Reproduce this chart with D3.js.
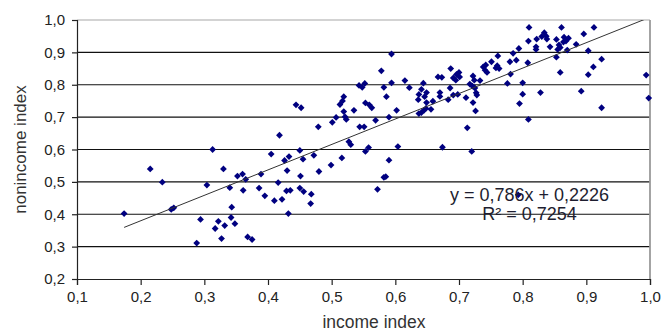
<!DOCTYPE html>
<html>
<head>
<meta charset="utf-8">
<script src="https://cdn.jsdelivr.net/npm/d3@7"></script>
<style>
  body { margin: 0; background: #fff; }
  svg { display: block; font-family: "Liberation Sans", Arial, sans-serif; }
</style>
</head>
<body>
<svg id="chart" width="662" height="331"></svg>
<script>
// scatter points: income index (x) and nonincome index (y)
const incomeIdx = [
  0.174,0.215,0.234,0.248,0.252,0.288,0.294,0.304,0.313,0.317,
  0.322,0.327,0.330,0.332,0.340,0.342,0.343,0.348,0.352,0.360,
  0.365,0.361,0.368,0.375,0.386,0.389,
  0.395,0.405,0.410,0.416,0.422,0.426,0.433,0.430,0.429,0.435,
  0.432,0.450,0.451,0.450,0.455,0.456,0.468,0.467,0.472,0.480,
  0.499,0.516,0.527,0.530,0.553,0.558,0.572,
  0.582,0.585,0.590,0.604,0.674,0.720,0.793,
  0.418,0.444,0.452,0.479,0.501,0.507,0.513,0.517,0.519,0.519,
  0.521,0.523,0.535,0.543,0.548,0.552,0.544,0.551,0.553,0.559,
  0.563,0.569,
  0.578,0.582,0.586,0.590,0.594,0.594,0.602,0.615,0.622,0.636,
  0.637,0.641,0.644,0.646,0.649,0.649,0.659,0.637,0.641,0.645,
  0.648,0.656,0.667,0.673,0.670,0.670,0.683,0.686,0.687,0.691,
  0.696,0.700,0.701,0.695,0.698,0.691,0.711,0.717,0.721,0.725,
  0.727,0.733,0.722,0.724,0.722,0.728,0.726,0.713,0.738,0.742,
  0.741,0.744,0.751,0.758,0.763,0.760,0.761,0.776,0.780,0.785,
  0.790,0.794,0.781,
  0.810,0.861,0.912,0.834,0.830,0.837,0.838,0.822,0.809,0.821,
  0.821,0.843,0.853,0.857,0.859,0.855,0.865,0.872,0.868,0.864,
  0.870,0.884,0.896,0.903,0.924,0.911,0.903,0.859,0.853,0.808,
  0.800,0.800,0.828,0.892,0.795,0.994,0.998,0.924,0.809
];
const nonincomeIdx = [
  0.402,0.540,0.499,0.415,0.420,0.311,0.384,0.490,0.600,0.356,
  0.378,0.325,0.540,0.365,0.482,0.390,0.422,0.371,0.518,0.524,
  0.508,0.474,0.330,0.322,0.481,0.524,
  0.457,0.586,0.442,0.498,0.446,0.566,0.578,0.535,0.472,0.474,
  0.402,0.597,0.518,0.481,0.570,0.470,0.462,0.433,0.582,0.532,
  0.552,0.574,0.624,0.615,0.594,0.606,0.477,
  0.514,0.516,0.567,0.609,0.607,0.594,0.460,
  0.644,0.738,0.729,0.670,0.684,0.699,0.739,0.750,0.763,0.717,
  0.701,0.693,0.721,0.798,0.792,0.804,0.670,0.670,0.744,0.738,
  0.729,0.690,
  0.843,0.792,0.763,0.700,0.895,0.806,0.721,0.813,0.791,0.754,
  0.770,0.786,0.805,0.763,0.776,0.745,0.749,0.711,0.714,0.721,
  0.727,0.724,0.824,0.823,0.776,0.764,0.754,0.790,0.850,0.821,
  0.832,0.838,0.824,0.814,0.770,0.768,0.760,0.802,0.796,0.790,
  0.775,0.813,0.827,0.814,0.745,0.768,0.719,0.667,0.855,0.861,
  0.845,0.838,0.871,0.852,0.850,0.859,0.889,0.804,0.871,0.897,
  0.876,0.912,0.833,
  0.977,0.977,0.977,0.961,0.949,0.950,0.941,0.941,0.935,0.917,
  0.909,0.917,0.940,0.923,0.915,0.909,0.947,0.944,0.935,0.932,
  0.907,0.925,0.957,0.905,0.879,0.855,0.831,0.838,0.885,0.868,
  0.806,0.771,0.776,0.780,0.742,0.830,0.759,0.729,0.693
];

const xTicks = [0.1,0.2,0.3,0.4,0.5,0.6,0.7,0.8,0.9,1.0];
const yTicks = [0.2,0.3,0.4,0.5,0.6,0.7,0.8,0.9,1.0];

// linear trendline as printed on the chart
const slope = 0.786;
const intercept = 0.2226;
const rSquared = 0.7254;

const svg = d3.select("#chart");
const plotLeft = 77, plotRight = 650, plotTop = 20, plotBottom = 279;

const x = d3.scaleLinear().domain([0.1, 1]).range([plotLeft, plotRight]);
const y = d3.scaleLinear().domain([0.2, 1]).range([plotBottom, plotTop]);

const comma = (v, n) => d3.format("." + n + "f")(v).replace(".", ",");

svg.append("defs").append("clipPath").attr("id", "plot")
  .append("rect")
  .attr("x", plotLeft).attr("y", plotTop)
  .attr("width", plotRight - plotLeft).attr("height", plotBottom - plotTop);

// horizontal gridlines
svg.append("g")
  .selectAll("line")
  .data(yTicks.filter(d => d > 0.2 && d < 1))
  .enter().append("line")
  .attr("x1", plotLeft).attr("x2", plotRight)
  .attr("y1", d => y(d)).attr("y2", d => y(d))
  .attr("stroke", "#111")
  .attr("stroke-width", 1.2);

// top and right border of plot area
svg.append("line")
  .attr("x1", plotLeft).attr("x2", plotRight)
  .attr("y1", y(1)).attr("y2", y(1))
  .attr("stroke", "#a8a8a8").attr("stroke-width", 1.2);
svg.append("line")
  .attr("x1", x(1)).attr("x2", x(1))
  .attr("y1", y(1)).attr("y2", y(0.2))
  .attr("stroke", "#9a9a9a").attr("stroke-width", 1.8);

// axes
const xAxis = svg.append("g")
  .attr("transform", "translate(0," + plotBottom + ")")
  .call(d3.axisBottom(x).tickValues(xTicks).tickSize(6).tickPadding(6)
    .tickFormat(d => comma(d, 1)));
const yAxis = svg.append("g")
  .attr("transform", "translate(" + plotLeft + ",0)")
  .call(d3.axisLeft(y).tickValues(yTicks).tickSize(5).tickPadding(7)
    .tickFormat(d => comma(d, 1)));

[xAxis, yAxis].forEach(a => {
  a.select(".domain").attr("stroke", "#222").attr("stroke-width", 1.2);
  a.selectAll(".tick line").attr("stroke", "#222").attr("stroke-width", 1.2);
  a.selectAll("text")
    .attr("fill", "#222")
    .style("font-size", "15px")
    .style("font-family", "Liberation Sans, Arial, sans-serif");
});

// points
const points = incomeIdx.map((v, i) => ({ x: v, y: nonincomeIdx[i] }));
svg.append("g")
  .selectAll("path")
  .data(points)
  .enter().append("path")
  .attr("d", d3.symbol(d3.symbolSquare, 23))
  .attr("transform", d => "translate(" + x(d.x) + "," + y(d.y) + ") rotate(45)")
  .attr("fill", "#000080");

// trendline
const xExtent = d3.extent(incomeIdx);
svg.append("line")
  .attr("clip-path", "url(#plot)")
  .attr("x1", x(xExtent[0])).attr("y1", y(slope * xExtent[0] + intercept))
  .attr("x2", x(xExtent[1])).attr("y2", y(slope * xExtent[1] + intercept))
  .attr("stroke", "#333")
  .attr("stroke-width", 1);

// equation labels
const eq = svg.append("g")
  .attr("fill", "#1e1e30")
  .style("font-size", "18px")
  .attr("text-anchor", "middle");
eq.append("text")
  .attr("x", 529.5).attr("y", 201)
  .text("y = " + comma(slope, 3) + "x + " + comma(intercept, 4));
eq.append("text")
  .attr("x", 529.5).attr("y", 220)
  .text("R² = " + comma(rSquared, 4));

// axis titles
svg.append("text")
  .attr("x", 374).attr("y", 328)
  .attr("text-anchor", "middle")
  .attr("fill", "#333")
  .style("font-size", "17.5px")
  .text("income index");
svg.append("text")
  .attr("transform", "translate(26," + ((plotTop + plotBottom) / 2) + ") rotate(-90)")
  .attr("text-anchor", "middle")
  .attr("fill", "#333")
  .style("font-size", "17px")
  .text("nonincome index");
</script>
</body>
</html>
